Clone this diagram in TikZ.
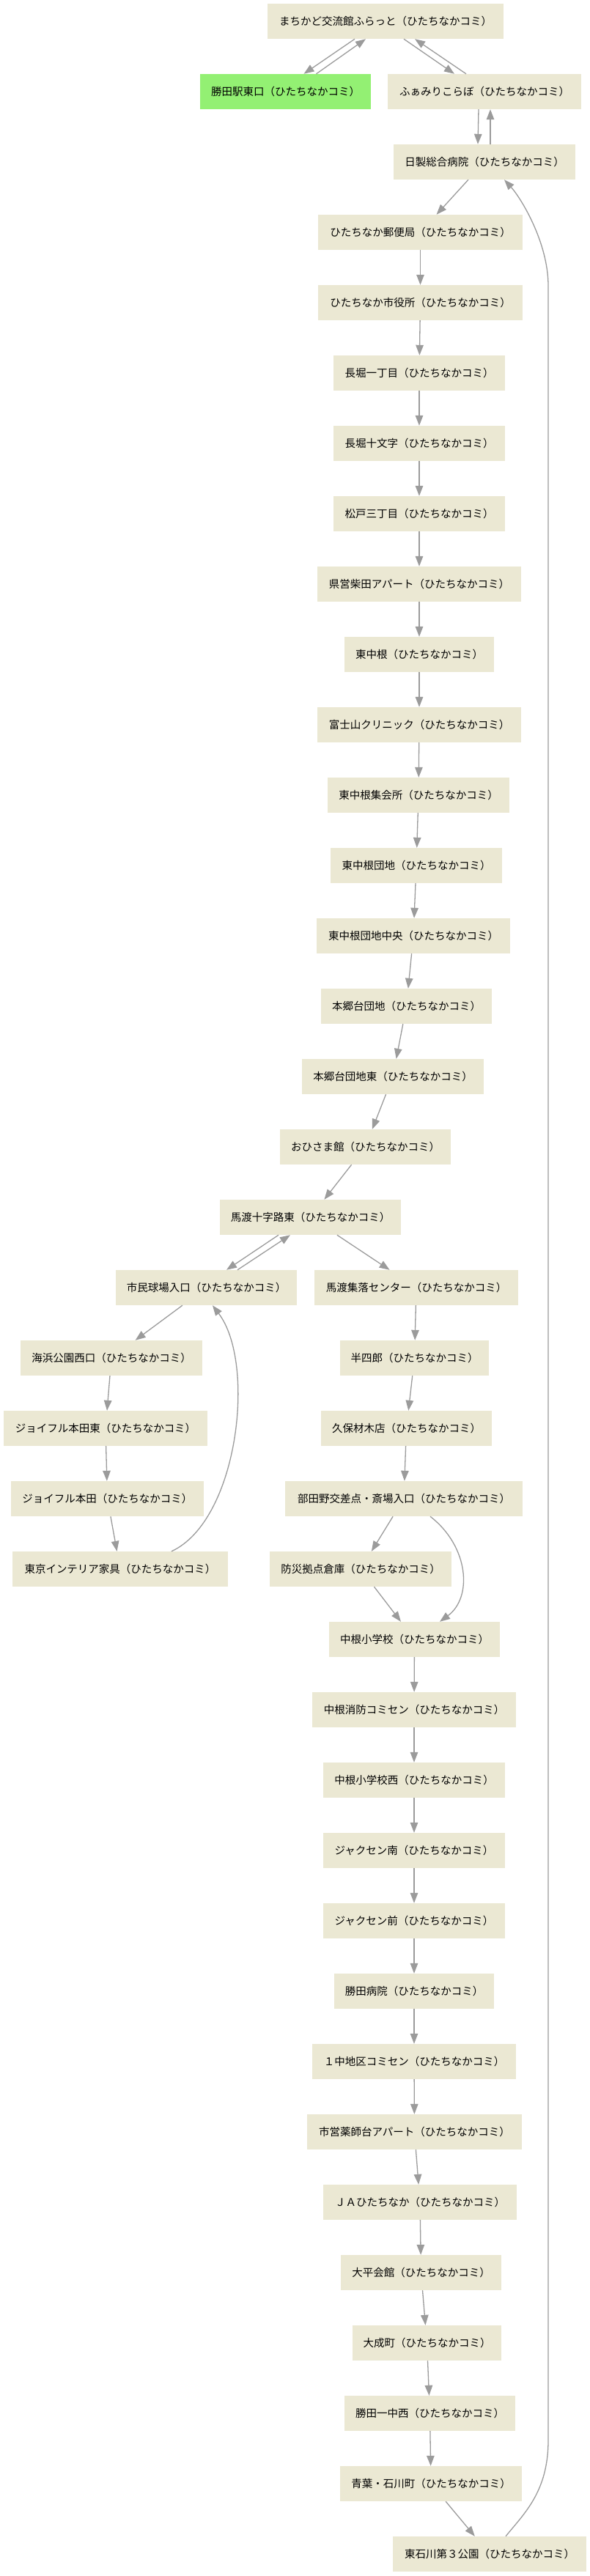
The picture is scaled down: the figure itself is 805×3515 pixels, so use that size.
\documentclass[tikz,border=0pt]{standalone}
\usepackage{fontspec}
\usepackage{tikz}
\usetikzlibrary{arrows.meta}
\newfontfamily\jpfont{Noto Sans CJK JP}
\definecolor{stopbg}{RGB}{235,232,211}
\definecolor{startgreen}{RGB}{147,240,115}
\definecolor{linegray}{RGB}{155,155,155}
\tikzset{
    busstop/.style={ % Sets the properties for each stop
        rectangle,
        fill=stopbg,
        minimum height=48pt,
        inner xsep=0pt,
        font=\jpfont\fontsize{14.5}{16}\selectfont
    },
    startstop/.style={busstop, fill=startgreen}, % First stop of the route
    link/.style={ % Sets the properties for each connection
        draw=linegray,
        ->,>={Triangle[length=14pt,width=10.5pt]},
        line width=1.3pt
    },
    every edge/.style={link}
}
\begin{document}
\begin{tikzpicture}[x=1pt, y=-1pt]
    \useasboundingbox (0,0) rectangle (805,3515);
    \node[busstop, minimum width=322pt] (s1) at (526,29) {まちかど交流館ふらっと（ひたちなかコミ）};
    \node[startstop, minimum width=233pt] (s2) at (389.5,125) {勝田駅東口（ひたちなかコミ）};
    \node[busstop, minimum width=264pt] (s3) at (661,125) {ふぁみりこらぼ（ひたちなかコミ）};
    \node[busstop, minimum width=248pt] (s4) at (661,221) {日製総合病院（ひたちなかコミ）};
    \node[busstop, minimum width=279pt] (s5) at (573.5,317) {ひたちなか郵便局（ひたちなかコミ）};
    \node[busstop, minimum width=279pt] (s6) at (573.5,413) {ひたちなか市役所（ひたちなかコミ）};
    \node[busstop, minimum width=234pt] (s7) at (572,509) {長堀一丁目（ひたちなかコミ）};
    \node[busstop, minimum width=234pt] (s8) at (572,605) {長堀十文字（ひたちなかコミ）};
    \node[busstop, minimum width=234pt] (s9) at (572,701) {松戸三丁目（ひたちなかコミ）};
    \node[busstop, minimum width=278pt] (s10) at (572,797) {県営柴田アパート（ひたちなかコミ）};
    \node[busstop, minimum width=204pt] (s11) at (572,893) {東中根（ひたちなかコミ）};
    \node[busstop, minimum width=278pt] (s12) at (572,989) {富士山クリニック（ひたちなかコミ）};
    \node[busstop, minimum width=248pt] (s13) at (571,1085) {東中根集会所（ひたちなかコミ）};
    \node[busstop, minimum width=234pt] (s14) at (568,1181) {東中根団地（ひたちなかコミ）};
    \node[busstop, minimum width=264pt] (s15) at (564,1277) {東中根団地中央（ひたちなかコミ）};
    \node[busstop, minimum width=233pt] (s16) at (554.5,1373) {本郷台団地（ひたちなかコミ）};
    \node[busstop, minimum width=248pt] (s17) at (536,1469) {本郷台団地東（ひたちなかコミ）};
    \node[busstop, minimum width=233pt] (s18) at (498.5,1565) {おひさま館（ひたちなかコミ）};
    \node[busstop, minimum width=247pt] (s19) at (423.5,1661) {馬渡十字路東（ひたちなかコミ）};
    \node[busstop, minimum width=247pt] (s20) at (281.5,1757) {市民球場入口（ひたちなかコミ）};
    \node[busstop, minimum width=278pt] (s21) at (568,1757) {馬渡集落センター（ひたちなかコミ）};
    \node[busstop, minimum width=248pt] (s22) at (152,1853) {海浜公園西口（ひたちなかコミ）};
    \node[busstop, minimum width=203pt] (s23) at (565.5,1853) {半四郎（ひたちなかコミ）};
    \node[busstop, minimum width=278pt] (s24) at (144,1949) {ジョイフル本田東（ひたちなかコミ）};
    \node[busstop, minimum width=233pt] (s25) at (554.5,1949) {久保材木店（ひたちなかコミ）};
    \node[busstop, minimum width=263pt] (s26) at (146.5,2045) {ジョイフル本田（ひたちなかコミ）};
    \node[busstop, minimum width=324pt] (s27) at (551,2045) {部田野交差点・斎場入口（ひたちなかコミ）};
    \node[busstop, minimum width=294pt] (s28) at (164,2141) {東京インテリア家具（ひたちなかコミ）};
    \node[busstop, minimum width=248pt] (s29) at (492,2141) {防災拠点倉庫（ひたちなかコミ）};
    \node[busstop, minimum width=233pt] (s30) at (565.5,2237) {中根小学校（ひたちなかコミ）};
    \node[busstop, minimum width=278pt] (s31) at (565,2333) {中根消防コミセン（ひたちなかコミ）};
    \node[busstop, minimum width=248pt] (s32) at (565,2429) {中根小学校西（ひたちなかコミ）};
    \node[busstop, minimum width=248pt] (s33) at (565,2525) {ジャクセン南（ひたちなかコミ）};
    \node[busstop, minimum width=248pt] (s34) at (565,2621) {ジャクセン前（ひたちなかコミ）};
    \node[busstop, minimum width=218pt] (s35) at (565,2717) {勝田病院（ひたちなかコミ）};
    \node[busstop, minimum width=278pt] (s36) at (565,2813) {１中地区コミセン（ひたちなかコミ）};
    \node[busstop, minimum width=293pt] (s37) at (565.5,2909) {市営薬師台アパート（ひたちなかコミ）};
    \node[busstop, minimum width=264pt] (s38) at (573,3005) {ＪＡひたちなか（ひたちなかコミ）};
    \node[busstop, minimum width=219pt] (s39) at (574.5,3101) {大平会館（ひたちなかコミ）};
    \node[busstop, minimum width=203pt] (s40) at (582.5,3197) {大成町（ひたちなかコミ）};
    \node[busstop, minimum width=233pt] (s41) at (586.5,3293) {勝田一中西（ひたちなかコミ）};
    \node[busstop, minimum width=248pt] (s42) at (588,3389) {青葉・石川町（ひたちなかコミ）};
    \node[busstop, minimum width=264pt] (s43) at (668,3485) {東石川第３公園（ひたちなかコミ）};
    \coordinate (r1) at (748,3330);
    \coordinate (r2) at (748,390);
    % both ways between the first stops
    \draw ([xshift=-42pt]s1.south) edge ([xshift=25pt]s2.north)
          ([xshift=42pt]s2.north) edge ([xshift=-27pt]s1.south)
          ([xshift=25pt]s1.south) edge ([xshift=-41pt]s3.north)
          ([xshift=-25pt]s3.north) edge ([xshift=40pt]s1.south)
          ([xshift=-8pt]s3.south) edge ([xshift=-9pt]s4.north)
          ([xshift=8pt]s4.north) edge ([xshift=8pt]s3.south);
    \draw (s4) edge (s5) (s5) edge (s6) (s6) edge (s7) (s7) edge (s8)
          (s8) edge (s9) (s9) edge (s10) (s10) edge (s11) (s11) edge (s12)
          (s12) edge (s13) (s13) edge (s14) (s14) edge (s15) (s15) edge (s16)
          (s16) edge (s17) (s17) edge (s18) (s18) edge (s19);
    \draw ([xshift=-43.5pt]s19.south) edge ([xshift=27.5pt]s20.north)
          ([xshift=42.5pt]s20.north) edge ([xshift=-27.5pt]s19.south)
          (s19) edge (s21);
    % west loop
    \draw (s20) edge (s22) (s22) edge (s24) (s24) edge (s26) (s26) edge (s28);
    \draw[link] ([xshift=70pt]s28.north) .. controls +(91,-42) and +(60,79) .. ([xshift=8.5pt]s20.south);
    % east branch
    \draw (s21) edge (s23) (s23) edge (s25) (s25) edge (s27) (s27) edge (s29) (s29) edge (s30);
    \draw[link] ([xshift=36pt]s27.south) .. controls +(53,41) and +(45,-33) .. ([xshift=34.5pt]s30.north);
    \draw (s30) edge (s31) (s31) edge (s32) (s32) edge (s33) (s33) edge (s34)
          (s34) edge (s35) (s35) edge (s36) (s36) edge (s37) (s37) edge (s38)
          (s38) edge (s39) (s39) edge (s40) (s40) edge (s41) (s41) edge (s42)
          (s42) edge (s43);
    % back to the hospital
    \draw[link] ([xshift=22pt]s43.north) .. controls +(25,-31) and +(0,70) .. (r1)
          -- (r2) .. controls +(0,-60) and +(22,24) .. ([xshift=27pt]s4.south);
\end{tikzpicture}
\end{document}
